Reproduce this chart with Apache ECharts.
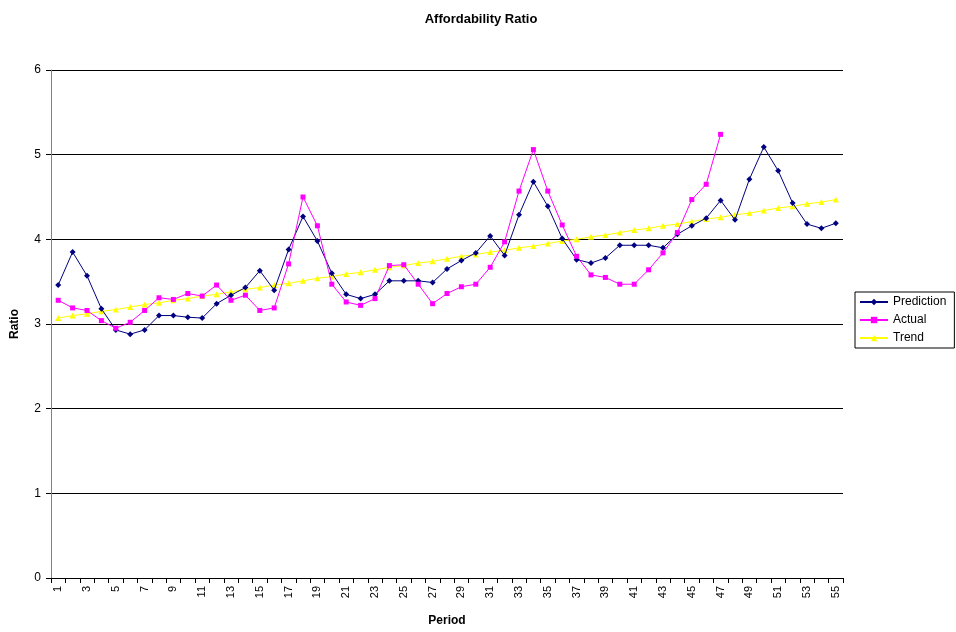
<!DOCTYPE html>
<html>
<head>
<meta charset="utf-8">
<script src="https://cdn.jsdelivr.net/npm/echarts@6/dist/echarts.min.js"></script>
<style>html,body{margin:0;padding:0;background:#fff}#c{width:956px;height:632px}</style>
</head>
<body>
<div id="c"></div>
<script>
const periods = Array.from({length: 55}, (_, i) => String(i + 1));
const prediction = [3.46,3.85,3.57,3.18,2.93,2.88,2.93,3.10,3.10,3.08,3.07,3.24,3.34,3.43,3.63,3.40,3.88,4.27,3.98,3.60,
  3.35,3.30,3.35,3.51,3.51,3.51,3.49,3.65,3.75,3.84,4.04,3.81,4.29,4.68,4.39,4.01,3.76,3.72,3.78,3.93,
  3.93,3.93,3.90,4.06,4.16,4.25,4.46,4.23,4.71,5.09,4.81,4.43,4.18,4.13,4.19];
const actual = [3.28,3.19,3.16,3.04,2.95,3.02,3.16,3.31,3.29,3.36,3.33,3.46,3.28,3.34,3.16,3.19,3.71,4.50,4.16,3.47,
  3.26,3.22,3.30,3.69,3.70,3.47,3.24,3.36,3.44,3.47,3.67,3.97,4.57,5.06,4.57,4.17,3.80,3.58,3.55,3.47,
  3.47,3.64,3.84,4.08,4.47,4.65,5.24];
const trend = [3.07,3.10,3.12,3.15,3.17,3.20,3.23,3.25,3.28,3.30,3.33,3.35,3.38,3.41,3.43,3.46,3.48,3.51,3.54,3.56,
  3.59,3.61,3.64,3.67,3.69,3.72,3.74,3.77,3.80,3.82,3.85,3.87,3.90,3.92,3.95,3.98,4.00,4.03,4.05,4.08,
  4.11,4.13,4.16,4.18,4.21,4.24,4.26,4.29,4.31,4.34,4.37,4.39,4.42,4.44,4.47];

const FONT = 'Liberation Sans, Arial, sans-serif';
const chart = echarts.init(document.getElementById('c'), null, {renderer: 'canvas'});
chart.setOption({
  animation: false,
  backgroundColor: '#fff',
  textStyle: {fontFamily: FONT},
  title: {
    text: 'Affordability Ratio', left: 476, top: 8, textAlign: 'center',
    textStyle: {fontFamily: FONT, fontSize: 13, fontWeight: 'bold', color: '#000'}
  },
  legend: {
    orient: 'vertical', left: 855, top: 292, width: 100,
    padding: [4, 8, 4, 4], itemGap: 6, itemWidth: 28, itemHeight: 8,
    borderColor: '#000', borderWidth: 1,
    textStyle: {fontFamily: FONT, fontSize: 12, color: '#000'},
    data: ['Prediction', 'Actual', 'Trend']
  },
  grid: {left: 51, right: 113, top: 70, bottom: 50, containLabel: false},
  xAxis: {
    type: 'category', data: periods, boundaryGap: true,
    name: 'Period', nameLocation: 'middle', nameGap: 37,
    nameTextStyle: {fontFamily: FONT, fontSize: 12, fontWeight: 'bold', color: '#000'},
    axisLine: {lineStyle: {color: '#000', width: 1}},
    axisTick: {show: true, interval: 0, alignWithLabel: false, length: 5, lineStyle: {color: '#000'}},
    axisLabel: {interval: 1, rotate: 90, fontSize: 11, color: '#000', fontFamily: FONT, margin: 8}
  },
  yAxis: {
    type: 'value', min: 0, max: 6, interval: 1,
    name: 'Ratio', nameLocation: 'middle', nameGap: 30, nameRotate: 90,
    nameTextStyle: {fontFamily: FONT, fontSize: 12, fontWeight: 'bold', color: '#000'},
    axisLine: {show: true, lineStyle: {color: '#808080', width: 1}},
    axisTick: {show: true, length: 5, lineStyle: {color: '#000'}},
    axisLabel: {fontSize: 12, color: '#000', fontFamily: FONT, margin: 10},
    splitLine: {show: true, lineStyle: {color: '#000', width: 1}}
  },
  series: [
    {name: 'Prediction', type: 'line', data: prediction, symbol: 'diamond', symbolSize: 6,
      itemStyle: {color: '#000080'}, lineStyle: {color: '#000080', width: 1}},
    {name: 'Actual', type: 'line', data: actual, symbol: 'rect', symbolSize: 5,
      itemStyle: {color: '#FF00FF'}, lineStyle: {color: '#FF00FF', width: 1}},
    {name: 'Trend', type: 'line', data: trend, symbol: 'triangle', symbolSize: 6, z: 1,
      itemStyle: {color: '#FFFF00'}, lineStyle: {color: '#FFFF00', width: 1}}
  ]
});
</script>
</body>
</html>
